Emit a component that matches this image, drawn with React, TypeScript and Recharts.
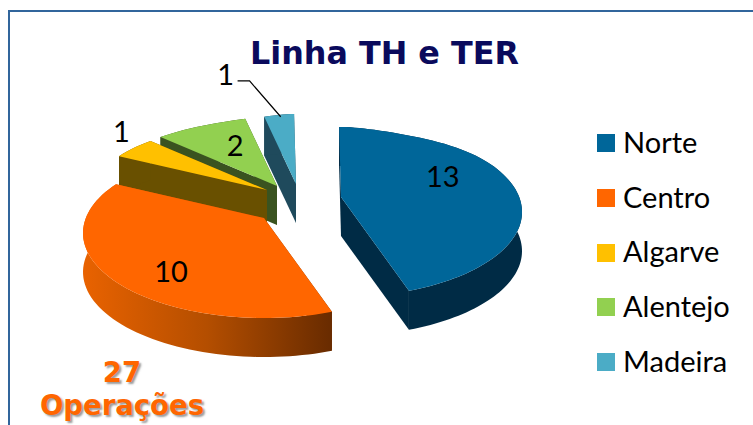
import { Legend, Pie, PieChart } from 'recharts';

// Drawn back to front, so the list runs the opposite way round from the legend
const REGIONS = ['Madeira', 'Alentejo', 'Algarve', 'Centro', 'Norte'];
const OPERATIONS = [1, 2, 1, 10, 13];
const LEGEND_ORDER = ['Norte', 'Centro', 'Algarve', 'Alentejo', 'Madeira'];

const chartData = REGIONS.map((name, i) => ({ name, value: OPERATIONS[i] }));

const COLORS: Record<string, string> = {
  Norte: '#006699',
  Centro: '#ff6600',
  Algarve: '#ffc000',
  Alentejo: '#92d050',
  Madeira: '#4bacc6',
};

const WALLS: Record<string, string> = {
  Norte: '#002b45',
  Centro: 'url(#centroWall)',
  Algarve: '#695000',
  Alentejo: '#3a5320',
  Madeira: '#1f4a5c',
};

// How far each slice is pulled away from the chart centre
const EXPLODE: Record<string, [number, number]> = {
  Norte: [45, 7],
  Centro: [-32, 28],
  Algarve: [-29, 0],
  Alentejo: [-19, -4],
  Madeira: [0, -6],
};

const LABEL_SHIFT: Record<string, [number, number]> = {
  Norte: [3, -24],
  Centro: [-16, 15],
  Algarve: [-72, -37],
  Alentejo: [-1, -8],
  Madeira: [-62, -72],
};

const CX = 296;
const CY = 190;
const RADIUS = 100;
const DEPTH = 39;
const FONT = 'Lato, sans-serif';
const TITLE_FONT = '"DejaVu Sans", sans-serif';

// Fake 3D view: maps a recharts angle and a radius fraction on to the tilted disc
function project(angle: number, frac: number) {
  const t = ((90 - angle) * Math.PI) / 180;
  // angles get squeezed towards the near side of the disc
  const near = (1 - Math.cos(t)) / 2;
  const warped = t - ((14.5 * Math.PI) / 180) * near * near;
  const s = Math.sin(warped);
  const c = Math.cos(warped);
  const narrow = 1 - 0.4 * Math.pow(Math.max(0, c), 10);
  return {
    x: frac * 181 * s * narrow,
    y: frac * (15 - 85 * c),
  };
}

function arcPoints(start: number, end: number) {
  const pts = [];
  const steps = Math.max(4, Math.ceil(Math.abs(end - start) / 2));
  for (let i = 0; i <= steps; i++) {
    pts.push(project(start + ((end - start) * i) / steps, 1));
  }
  return pts;
}

function Slice3D(props: any) {
  const { startAngle, endAngle, cx, cy } = props;
  const name = props.name ?? props.payload?.name;
  const [ox, oy] = EXPLODE[name];
  const ax = cx + ox;
  const ay = cy + oy;
  const arc = arcPoints(startAngle, endAngle).map((p) => ({ x: ax + p.x, y: ay + p.y }));
  const first = arc[0];
  const last = arc[arc.length - 1];
  const line = (pts: { x: number; y: number }[]) => pts.map((p) => `${p.x},${p.y}`).join(' ');
  const down = (p: { x: number; y: number }) => ({ x: p.x, y: p.y + DEPTH });
  const apex = { x: ax, y: ay };
  const wall = WALLS[name];
  return (
    <g>
      <polygon points={line([apex, first, down(first), down(apex)])} fill={wall} />
      <polygon points={line([apex, last, down(last), down(apex)])} fill={wall} />
      <polygon points={line([...arc, ...arc.map(down).reverse()])} fill={wall} />
      <polygon points={line([apex, ...arc])} fill={COLORS[name]} />
    </g>
  );
}

function SliceLabel(props: any) {
  const { cx, cy, midAngle, name, value } = props;
  const [ox, oy] = EXPLODE[name];
  const [lx, ly] = LABEL_SHIFT[name];
  const mid = project(midAngle, 0.55);
  const x = cx + ox + mid.x + lx;
  const y = cy + oy + mid.y + ly;
  const rim = project(midAngle, 1);
  return (
    <g>
      {name === 'Madeira' && (
        <polyline
          points={`${x + 12},${y + 7} ${x + 24},${y + 7} ${cx + ox + rim.x},${cy + oy + rim.y + 2}`}
          fill="none"
          stroke="#000"
          strokeWidth={1.2}
        />
      )}
      <text x={x} y={y} textAnchor="middle" dominantBaseline="central" fontFamily={FONT} fontSize={29} fill="#000">
        {value}
      </text>
    </g>
  );
}

function RegionLegend() {
  return (
    <div>
      {LEGEND_ORDER.map((name) => (
        <div key={name} style={{ display: 'flex', alignItems: 'center', height: 54.7 }}>
          <span style={{ width: 18, height: 18, background: COLORS[name], marginRight: 8 }} />
          <span style={{ fontFamily: FONT, fontSize: 29, color: '#000', position: 'relative', top: -2 }}>{name}</span>
        </div>
      ))}
    </div>
  );
}

export default function App() {
  return (
    <div style={{ position: 'absolute', left: 0, top: 0, width: 753, height: 425, overflow: 'hidden', background: '#fff' }}>
      <div
        style={{
          position: 'absolute',
          left: 8,
          top: 10,
          width: 800,
          height: 500,
          border: '2px solid #31659c',
        }}
      />
      <div style={{ position: 'absolute', left: 0, top: 0 }}>
        <PieChart width={753} height={425} margin={{ top: 0, right: 0, bottom: 0, left: 0 }}>
          <defs>
            <linearGradient id="centroWall" gradientUnits="userSpaceOnUse" x1={85} y1={0} x2={329} y2={0}>
              <stop offset="0%" stopColor="#e86200" />
              <stop offset="50%" stopColor="#b44e00" />
              <stop offset="100%" stopColor="#6a2c00" />
            </linearGradient>
          </defs>
          <Pie
            data={chartData}
            dataKey="value"
            nameKey="name"
            cx={CX}
            cy={CY}
            outerRadius={RADIUS}
            startAngle={91}
            endAngle={451}
            stroke="none"
            shape={Slice3D}
            label={SliceLabel}
            labelLine={false}
            isAnimationActive={false}
          />
          <Legend
            layout="vertical"
            align="right"
            verticalAlign="top"
            content={RegionLegend}
            wrapperStyle={{ left: 597, top: 116, width: 150 }}
          />
        </PieChart>
      </div>
      <div
        style={{
          position: 'absolute',
          left: 250,
          top: 34,
          fontFamily: TITLE_FONT,
          fontWeight: 'bold',
          fontSize: 31.8,
          color: '#0a0a5c',
          whiteSpace: 'nowrap',
        }}
      >
        Linha TH e TER
      </div>
      <div
        style={{
          position: 'absolute',
          left: 22,
          width: 200,
          top: 356,
          textAlign: 'center',
          fontFamily: TITLE_FONT,
          fontWeight: 'bold',
          fontSize: 27.5,
          lineHeight: '33px',
          color: '#ff6600',
          textShadow: '2px 2px 2px rgba(90,90,90,0.6)',
        }}
      >
        27
        <br />
        Operações
      </div>
    </div>
  );
}
